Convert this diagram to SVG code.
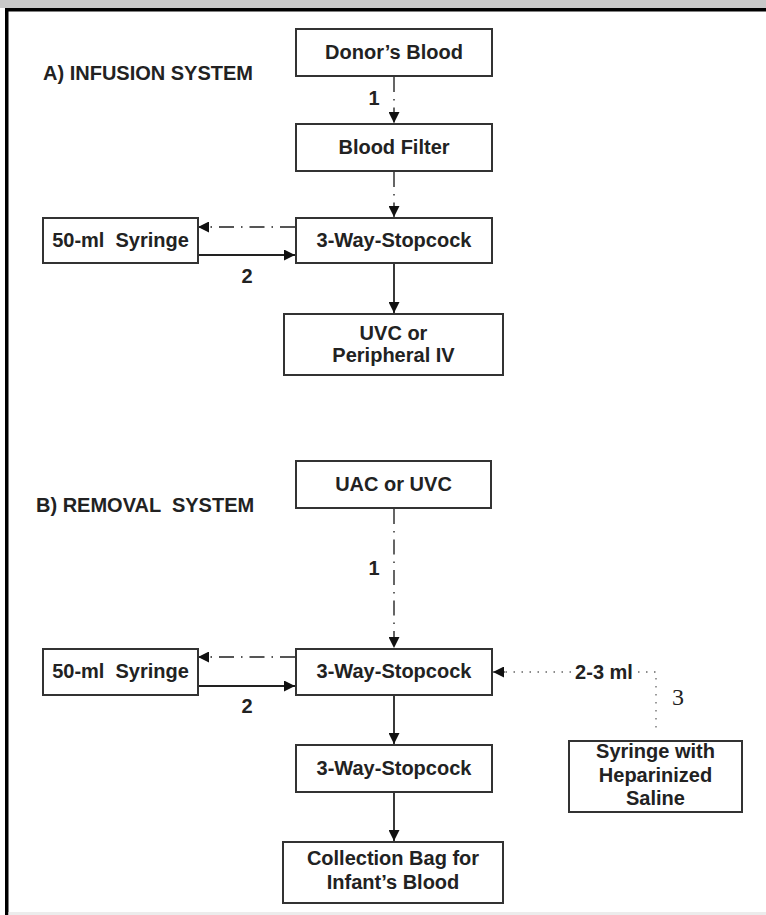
<svg xmlns="http://www.w3.org/2000/svg" width="766" height="915" viewBox="0 0 766 915">
  <style>
    .box { fill: #fff; stroke: #333; stroke-width: 2; }
    .lbl { font-family: "Liberation Sans", Arial, sans-serif; font-weight: bold; font-size: 20px; fill: #222; text-anchor: middle; }
    .title { font-family: "Liberation Sans", Arial, sans-serif; font-weight: bold; font-size: 20px; fill: #222; }
    .solid { fill: none; stroke: #222; stroke-width: 1.8; }
    .dashdot { fill: none; stroke: #555; stroke-width: 1.8; stroke-dasharray: 15 7 1.5 7; }
    .dotted { fill: none; stroke: #666; stroke-width: 1.3; stroke-dasharray: 1.5 6.5; }
  </style>
  <defs>
    <marker id="head" viewBox="0 0 10 10" refX="10" refY="5" markerWidth="11" markerHeight="11" markerUnits="userSpaceOnUse" orient="auto">
      <path d="M0,0 L10,5 L0,10 Z" fill="#111"/>
    </marker>
  </defs>

  <!-- page frame -->
  <rect x="0" y="0" width="766" height="915" fill="#fff"/>
  <rect x="0" y="0" width="766" height="8" fill="#c8c8c8"/>
  <rect x="5" y="8" width="761" height="3.5" fill="#000"/>
  <rect x="5" y="8" width="3.5" height="907" fill="#000"/>
  <rect x="8.5" y="912" width="758" height="3" fill="#ececec"/>

  <!-- section titles -->
  <text class="title" x="43" y="79.5">A) INFUSION SYSTEM</text>
  <text class="title" x="36" y="511.5" xml:space="preserve">B) REMOVAL  SYSTEM</text>

  <!-- connectors -->
  <g id="connectors">
    <!-- infusion system -->
    <line class="dashdot" x1="394" y1="77" x2="394" y2="123" marker-end="url(#head)"/>
    <line class="dashdot" x1="394" y1="172" x2="394" y2="217" marker-end="url(#head)"/>
    <line class="dashdot" x1="295" y1="227" x2="198" y2="227" marker-end="url(#head)"/>
    <line class="solid" x1="198" y1="255" x2="295" y2="255" marker-end="url(#head)"/>
    <line class="solid" x1="394" y1="264" x2="394" y2="313" marker-end="url(#head)"/>
    <text class="lbl" x="374" y="105">1</text>
    <text class="lbl" x="247" y="283">2</text>

    <!-- removal system -->
    <line class="dashdot" x1="394" y1="509" x2="394" y2="648" marker-end="url(#head)"/>
    <line class="dashdot" x1="295" y1="657" x2="198" y2="657" marker-end="url(#head)"/>
    <line class="solid" x1="198" y1="686" x2="295" y2="686" marker-end="url(#head)"/>
    <line class="solid" x1="394" y1="696" x2="394" y2="744" marker-end="url(#head)"/>
    <line class="solid" x1="394" y1="793" x2="394" y2="841" marker-end="url(#head)"/>
    <line class="dotted" x1="571" y1="672" x2="505" y2="672"/>
    <line x1="505" y1="672" x2="493" y2="672" stroke="#111" stroke-width="1" marker-end="url(#head)"/>
    <polyline class="dotted" points="638,672 656,672 656,734"/>
    <text class="lbl" x="374" y="575">1</text>
    <text class="lbl" x="247" y="713">2</text>
    <text class="lbl" x="604" y="679">2-3 ml</text>
    <text x="672" y="705" font-family="'Liberation Serif', 'Times New Roman', serif" font-size="24" fill="#222">3</text>
  </g>

  <!-- infusion system nodes -->
  <g id="donor-blood">
    <rect class="box" x="296" y="29" width="196" height="47"/>
    <text class="lbl" x="394" y="59">Donor’s Blood</text>
  </g>
  <g id="blood-filter">
    <rect class="box" x="296" y="124" width="196" height="47"/>
    <text class="lbl" x="394" y="154">Blood Filter</text>
  </g>
  <g id="stopcock-a">
    <rect class="box" x="296" y="218" width="196" height="45"/>
    <text class="lbl" x="394" y="247">3-Way-Stopcock</text>
  </g>
  <g id="syringe-a">
    <rect class="box" x="43" y="218" width="155" height="45"/>
    <text class="lbl" x="120.5" y="247" xml:space="preserve">50-ml  Syringe</text>
  </g>
  <g id="uvc-peripheral">
    <rect class="box" x="284" y="314" width="219" height="61"/>
    <text class="lbl" x="393.5" y="340">UVC or</text>
    <text class="lbl" x="393.5" y="362">Peripheral IV</text>
  </g>

  <!-- removal system nodes -->
  <g id="uac-uvc">
    <rect class="box" x="296" y="461" width="195" height="47"/>
    <text class="lbl" x="393.5" y="491">UAC or UVC</text>
  </g>
  <g id="stopcock-b">
    <rect class="box" x="296" y="649" width="196" height="46"/>
    <text class="lbl" x="394" y="678">3-Way-Stopcock</text>
  </g>
  <g id="syringe-b">
    <rect class="box" x="43" y="649" width="155" height="46"/>
    <text class="lbl" x="120.5" y="678" xml:space="preserve">50-ml  Syringe</text>
  </g>
  <g id="heparin-syringe">
    <rect class="box" x="569" y="741" width="173" height="71"/>
    <text class="lbl" x="655.5" y="758">Syringe with</text>
    <text class="lbl" x="655.5" y="782">Heparinized</text>
    <text class="lbl" x="655.5" y="805">Saline</text>
  </g>
  <g id="stopcock-c">
    <rect class="box" x="296" y="745" width="196" height="47"/>
    <text class="lbl" x="394" y="775">3-Way-Stopcock</text>
  </g>
  <g id="collection-bag">
    <rect class="box" x="283" y="842" width="220" height="61"/>
    <text class="lbl" x="393" y="865">Collection Bag for</text>
    <text class="lbl" x="393" y="889">Infant’s Blood</text>
  </g>
</svg>
